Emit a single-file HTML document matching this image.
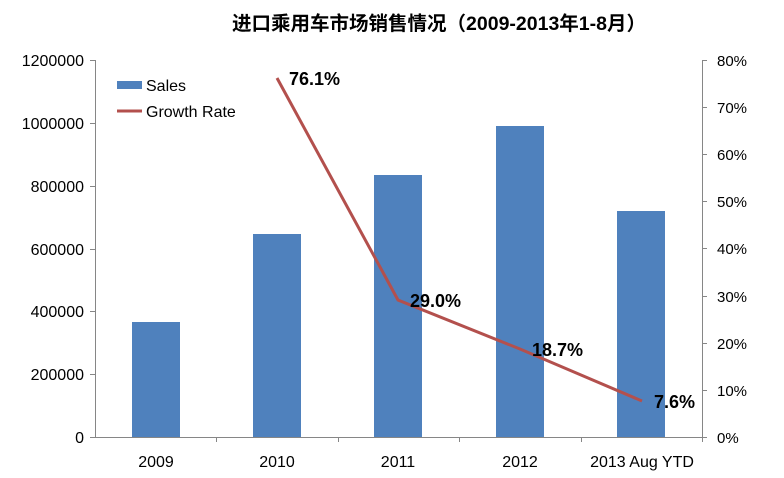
<!DOCTYPE html>
<html><head><meta charset="utf-8"><style>body{margin:0;background:#fff}</style></head><body>
<svg width="784" height="473" xmlns="http://www.w3.org/2000/svg" font-family="Liberation Sans, Arial, sans-serif">
<text x="439" y="30" text-anchor="middle" font-size="19.5" font-weight="bold" font-family="Liberation Sans, Noto Sans CJK SC, sans-serif">进口乘用车市场销售情况（2009-2013年1-8月）</text>
<g fill="#4f81bd">
<rect x="132" y="322" width="48" height="115"/>
<rect x="253" y="234" width="48" height="203"/>
<rect x="374" y="175" width="48" height="262"/>
<rect x="496" y="126" width="48" height="311"/>
<rect x="617" y="211" width="48" height="226"/>
</g>
<g stroke="#868686" stroke-width="1" fill="none">
<path d="M95.5 60V437.5H702.5V60"/>
<path d="M90 60.5h5.5M90 123.5h5.5M90 186.5h5.5M90 249.5h5.5M90 311.5h5.5M90 374.5h5.5M90 437.5h5.5"/>
<path d="M702 60.5h5M702 107.5h5M702 154.5h5M702 201.5h5M702 248.5h5M702 296.5h5M702 343.5h5M702 390.5h5M702 437.5h5"/>
<path d="M216.5 437v5M338.5 437v5M459.5 437v5M581.5 437v5M702.5 437v5"/>
</g>
<polyline points="277,78 398,300 520,349 642,401" fill="none" stroke="#b3504d" stroke-width="3"/>
<g font-size="16" fill="#000" text-anchor="end">
<text x="84" y="66">1200000</text><text x="84" y="129">1000000</text><text x="84" y="192">800000</text><text x="84" y="255">600000</text><text x="84" y="317">400000</text><text x="84" y="380">200000</text><text x="84" y="443">0</text>
</g>
<g font-size="15" fill="#000">
<text x="717" y="66">80%</text><text x="717" y="113">70%</text><text x="717" y="160">60%</text><text x="717" y="207">50%</text><text x="717" y="254">40%</text><text x="717" y="302">30%</text><text x="717" y="349">20%</text><text x="717" y="396">10%</text><text x="717" y="443">0%</text>
</g>
<g font-size="16" fill="#000" text-anchor="middle">
<text x="156" y="467">2009</text><text x="277" y="467">2010</text><text x="398" y="467">2011</text><text x="520" y="467">2012</text><text x="642" y="467">2013 Aug YTD</text>
</g>
<g font-size="18" font-weight="bold" fill="#000">
<text x="289" y="85">76.1%</text><text x="410" y="307">29.0%</text><text x="532" y="356">18.7%</text><text x="654" y="408">7.6%</text>
</g>
<rect x="117" y="81" width="25" height="8" fill="#4f81bd"/>
<line x1="117" y1="111" x2="142" y2="111" stroke="#b3504d" stroke-width="3"/>
<g font-size="16" fill="#000"><text x="146" y="91">Sales</text><text x="146" y="117">Growth Rate</text></g>
</svg>
</body></html>
